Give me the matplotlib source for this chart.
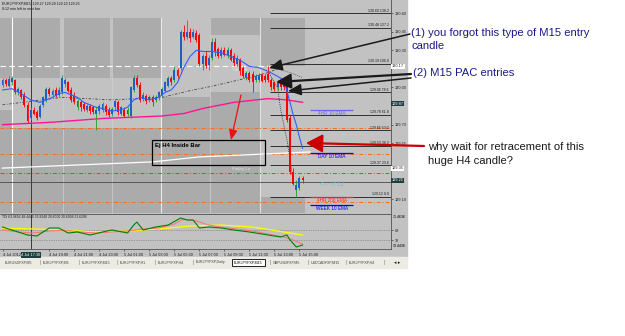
import numpy as np
import matplotlib
matplotlib.use('Agg')
import matplotlib.pyplot as plt
from matplotlib.patches import Rectangle, FancyArrowPatch

plt.rcParams['font.family'] = ['Liberation Sans', 'DejaVu Sans']

# ---- EURJPY M15 candles ----
opens = [130.02, 130.06, 130.01, 130.04, 130.06, 129.96, 129.98, 129.94, 129.86, 129.75,
         129.82, 129.80, 129.76, 129.86, 129.90, 129.99, 129.94, 129.98, 129.94, 129.96,
         130.03, 130.04, 129.98, 129.93, 129.84, 129.88, 129.87, 129.82, 129.85, 129.84,
         129.79, 129.81, 129.82, 129.85, 129.82, 129.79, 129.84, 129.88, 129.79, 129.82,
         129.79, 129.77, 129.98, 130.08, 130.02, 129.91, 129.93, 129.90, 129.92, 129.90,
         129.92, 129.94, 129.97, 130.01, 130.08, 130.06, 130.14, 130.16, 130.45, 130.41,
         130.45, 130.41, 130.44, 130.42, 130.19, 130.25, 130.18, 130.24, 130.37, 130.31,
         130.25, 130.30, 130.26, 130.30, 130.25, 130.19, 130.22, 130.16, 130.08, 130.12,
         130.11, 130.06, 130.06, 130.10, 130.09, 130.11, 130.06, 130.04, 130.00, 130.04,
         130.04, 130.03, 129.75, 129.32, 129.17, 129.19, 129.27]
highs = [130.08, 130.08, 130.09, 130.09, 130.07, 130.00, 129.99, 129.96, 129.88, 129.84,
         129.84, 129.82, 129.87, 129.93, 130.00, 130.00, 129.99, 130.00, 130.00, 130.10,
         130.08, 130.05, 130.00, 129.96, 129.91, 129.90, 129.88, 129.87, 129.87, 129.85,
         129.84, 129.87, 129.88, 129.87, 129.84, 129.84, 129.90, 129.90, 129.85, 129.84,
         129.84, 130.01, 130.10, 130.10, 130.04, 129.96, 129.95, 129.94, 129.94, 129.94,
         129.97, 130.00, 130.05, 130.09, 130.09, 130.17, 130.16, 130.46, 130.50, 130.54,
         130.48, 130.47, 130.46, 130.44, 130.27, 130.29, 130.26, 130.40, 130.40, 130.33,
         130.33, 130.33, 130.33, 130.32, 130.28, 130.26, 130.24, 130.17, 130.13, 130.13,
         130.13, 130.11, 130.12, 130.12, 130.11, 130.17, 130.08, 130.05, 130.05, 130.05,
         130.06, 130.04, 129.78, 129.35, 129.25, 129.29, 129.29]
lows = [130.00, 130.01, 130.00, 130.02, 129.95, 129.94, 129.91, 129.84, 129.71, 129.74,
        129.78, 129.74, 129.75, 129.84, 129.88, 129.93, 129.92, 129.92, 129.92, 129.95,
        130.00, 129.96, 129.88, 129.87, 129.82, 129.81, 129.81, 129.80, 129.79, 129.79,
        129.66, 129.79, 129.80, 129.78, 129.76, 129.77, 129.82, 129.78, 129.78, 129.76,
        129.77, 129.75, 129.96, 130.00, 129.88, 129.89, 129.87, 129.88, 129.85, 129.88,
        129.90, 129.92, 129.96, 130.00, 130.02, 130.04, 130.08, 130.14, 130.38, 130.39,
        130.37, 130.40, 130.37, 130.17, 130.14, 130.16, 130.14, 130.22, 130.25, 130.24,
        130.24, 130.25, 130.24, 130.21, 130.17, 130.17, 130.10, 130.08, 130.06, 130.04,
        129.96, 130.04, 130.04, 130.04, 130.04, 130.04, 129.98, 129.97, 129.98, 129.98,
        129.98, 129.72, 129.30, 129.21, 129.12, 129.17, 129.23]
closes = [130.06, 130.03, 130.07, 130.08, 129.96, 129.99, 129.92, 129.86, 129.73, 129.82,
          129.79, 129.75, 129.85, 129.92, 129.99, 129.95, 129.97, 129.93, 129.98, 130.08,
          130.06, 129.97, 129.90, 129.88, 129.89, 129.84, 129.83, 129.85, 129.81, 129.80,
          129.82, 129.85, 129.87, 129.80, 129.78, 129.83, 129.89, 129.80, 129.84, 129.77,
          129.82, 130.00, 130.08, 130.02, 129.90, 129.94, 129.89, 129.92, 129.88, 129.92,
          129.96, 129.99, 130.04, 130.08, 130.04, 130.14, 130.09, 130.45, 130.41, 130.45,
          130.40, 130.45, 130.38, 130.19, 130.25, 130.17, 130.24, 130.37, 130.29, 130.25,
          130.30, 130.26, 130.30, 130.22, 130.20, 130.24, 130.13, 130.09, 130.12, 130.06,
          130.04, 130.09, 130.10, 130.05, 130.06, 130.06, 130.00, 129.99, 130.04, 130.00,
          130.00, 129.74, 129.32, 129.22, 129.21, 129.27, 129.25]

# moving averages / envelopes (bar index, price)
blue_idx = [0, 3, 6, 9, 12, 14, 16, 18, 20, 22, 24, 26, 28, 30, 32, 35, 38, 40, 42, 44, 47, 50,
            52, 54, 56, 58, 60, 62, 64, 67, 70, 73, 76, 79, 82, 85, 88, 90, 92, 93, 94, 95, 96]
blue_val = [129.98, 129.99, 129.95, 129.90, 129.88, 129.90, 129.92, 129.95, 129.96, 129.94,
            129.92, 129.88, 129.86, 129.84, 129.83, 129.81, 129.82, 129.84, 129.90, 129.92,
            129.90, 129.92, 129.96, 129.98, 130.04, 130.16, 130.25, 130.30, 130.29, 130.29,
            130.28, 130.25, 130.22, 130.17, 130.16, 130.13, 130.09, 130.06, 129.88, 129.78,
            129.70, 129.60, 129.51]
pink_idx = [0, 16, 32, 51, 58, 64, 74, 85, 91, 96]
pink_val = [129.70, 129.72, 129.75, 129.77, 129.79, 129.83, 129.88, 129.91, 129.90, 129.88]
gray_idx = [0, 19, 35, 51, 61, 67, 79, 85, 88]
gray_val = [129.86, 129.92, 129.90, 129.92, 129.98, 130.01, 130.08, 130.12, 130.15]
dotr_idx = [88, 92, 96]
dotr_val = [130.15, 130.12, 130.08]
dotd_idx = [85, 88, 89, 91, 93]
dotd_val = [130.13, 130.00, 129.82, 129.58, 129.25]
white_idx = [0, 48, 63, 98.4]
white_val = [129.35, 129.40, 129.44, 129.48]

# fibonacci levels
fib_low, fib_high = 129.12, 130.19
fib_ratios = [138.2, 127.2, 100.0, 78.6, 61.8, 50.0, 38.2, 23.6, 0.0]

# session boxes: (start idx, end idx, low, high)
boxes = [(-0.8, 18.4, 130.08, 130.56), (19.4, 34.4, 130.08, 130.56), (35.0, 50.7, 130.08, 130.56),
         (66.4, 82.4, 130.42, 130.56), (82.4, 96.8, 130.17, 130.56),
         (-0.8, 50.7, 128.99, 129.67), (-0.8, 3.0, 129.67, 129.82), (50.7, 66.4, 128.99, 129.92),
         (66.4, 82.4, 128.99, 129.96), (82.4, 96.8, 128.99, 129.12)]

# TDI indicator
tdi_g_idx = [0, 3, 8, 11, 15, 18, 21, 24, 28, 32, 35, 40, 42, 43, 45, 49, 53, 57, 59, 61, 63,
             66, 70, 74, 79, 85, 89, 91, 92, 94, 96]
tdi_g_val = [78.8, 68, 50, 46.4, 75.2, 75.2, 57.2, 60.8, 50, 60.8, 68, 57.2, 86, 96.8, 68, 78.8,
             86, 111.2, 104, 104, 75.2, 78.8, 75.2, 68, 60.8, 50, 42.8, 50, 32, 6.8, 14]
tdi_r_idx = [0, 5, 10, 15, 20, 25, 30, 35, 40, 45, 50, 55, 58, 62, 66, 70, 75, 80, 85, 90, 93, 96]
tdi_r_val = [68, 60.8, 57.2, 64.4, 68, 60.8, 57.2, 60.8, 64.4, 71.6, 75.2, 89.6, 107.6, 100.4,
             86, 78.8, 71.6, 64.4, 53.6, 42.8, 32, 17.6]
tdi_y_idx = [0, 10, 20, 30, 40, 50, 60, 70, 80, 90, 96]
tdi_y_val = [75.2, 71.6, 68, 60.8, 64.4, 71.6, 82.4, 86, 78.8, 60.8, 50]

price_ticks = [130.60, 130.45, 130.30, 130.00, 129.70, 129.55, 129.10]
marked_prices = [130.17, 129.87, 129.35, 129.25]
time_idx = [0, 15, 23, 31, 39, 47, 55, 63, 71, 79, 87, 95]
time_lbl = ['4 Jul 2012', '4 Jul 19:00', '4 Jul 21:00', '4 Jul 23:00', '5 Jul 01:00', '5 Jul 03:00',
            '5 Jul 05:00', '5 Jul 07:00', '5 Jul 09:00', '5 Jul 11:00', '5 Jul 13:00', '5 Jul 15:00']
tabs = ['EURUSDFXP,M5', 'EURJPYFXP,M5', 'EURJPYFXP,M15', 'EURJPYFXP,H1', 'EURJPYFXP,H4',
        'EURJPYFXP,Daily', 'EURJPYFXP,M15', 'GBPUSDFXP,M5', 'USDCADFXP,M15', 'EURJPYFXP,H4']

BG = '#c2c2c2'
BOX = '#ababab'
W, H = 625, 336


def fx(x):
    return x / W


def fy(y):
    return 1 - y / H


fig = plt.figure(figsize=(6.25, 3.36), dpi=100, facecolor='white')
fig.patches.append(Rectangle((0, fy(257)), fx(407), 257 / H, transform=fig.transFigure,
                             color=BG, zorder=-10))
fig.patches.append(Rectangle((0, fy(268)), fx(407), 11 / H, transform=fig.transFigure,
                             color='#ecebe4', zorder=-10))

# ---- main price panel ----
ax = fig.add_axes([0, fy(213), fx(391), 213 / H])
ax.set_facecolor(BG)
ax.set_xlim(-0.8, 124.3)
ax.set_ylim(128.988, 130.705)

for x0, x1, lo, hi in boxes:
    ax.add_patch(Rectangle((x0, lo), x1 - x0, hi - lo, color=BOX, lw=0, zorder=0.5))

for xi, c in [(3.0, 'white'), (50.7, '#e8e8e8'), (82.4, '#e0e0e0')]:
    ax.plot([xi, xi], [128.99, 130.56], color=c, lw=0.8, zorder=1)
for xi in [19.2, 35.0, 66.4]:
    ax.plot([xi, xi], [128.99, 130.56], color='#cfcfcf', lw=0.5, zorder=1)
ax.axvline(9.1, color='#3a3a3a', lw=0.7, zorder=1)

ax.axhline(129.67, color='#ff6a1a', lw=0.7, ls=(0, (4, 2, 1, 2)), zorder=1)
ax.axhline(129.46, color='#ff6a1a', lw=0.7, ls=(0, (4, 2, 1, 2)), zorder=1)
ax.axhline(129.08, color='#ff6a1a', lw=0.7, ls=(0, (4, 2, 1, 2)), zorder=1)
ax.axhline(129.31, color='#3c8c3c', lw=0.7, ls=(0, (4, 2, 1, 2)), zorder=1)
ax.axhline(129.24, color='#4a4a4a', lw=0.6, zorder=1)
ax.hlines(130.17, -0.8, 85.6, color='white', lw=0.8, ls=(0, (5, 3)), zorder=1)
ax.text(73.5, 130.16, 'Yday Hi', color='#eeeeee', fontsize=3.2, va='top', zorder=2)
ax.text(73.5, 129.36, 'Friday Lo', color='#e4e4e4', fontsize=3.2, va='top', zorder=2)
ax.plot(white_idx, white_val, color='white', lw=0.9, zorder=2)

for r in fib_ratios:
    p = fib_low + r / 100 * (fib_high - fib_low)
    ax.hlines(p, 85.6, 124.3, color='#1a1a1a', lw=0.6, zorder=2)
    ax.text(123.6, p + 0.004, f'{p:.2f} {r:.1f}', ha='right', va='bottom', fontsize=2.5,
            color='#1a1a1a', zorder=3)

ax.plot(pink_idx, pink_val, color='#ff1493', lw=1.0, zorder=3)
ax.plot(gray_idx, gray_val, color='#404040', lw=0.6, ls=(0, (3, 2, 1, 2)), zorder=3)
ax.plot(dotr_idx, dotr_val, color='#404040', lw=0.6, ls=(0, (1, 1.5)), zorder=3)
ax.plot(dotd_idx, dotd_val, color='#202020', lw=0.6, ls=(0, (1, 1.5)), zorder=3)

idx = np.arange(len(opens))
o = np.array(opens)
c = np.array(closes)
up = c >= o
ax.vlines(idx, lows, highs, colors=np.where(up, '#1fa01f', '#ff0000'), lw=0.6, zorder=4)
ax.bar(idx, np.maximum(np.abs(c - o), 0.006), bottom=np.minimum(o, c), width=0.62,
       color=np.where(up, '#1e5fc8', '#ff0000'), lw=0, zorder=5)
ax.plot(blue_idx, blue_val, color='#2f5fff', lw=0.8, zorder=6)

# labels of the higher timeframe EMAs
ema_labels = ['4HR 10 EMA', 'DAY 10 EMA', '4HR 200 EMA', 'WEEK 10 EMA']
ema_levels = [129.82, 129.47, 129.12, 129.05]
ema_colors = ['#6a6af0', '#0000ff', '#ff2020', '#0000ff']
for lbl, lev, col in zip(ema_labels, ema_levels, ema_colors):
    ax.hlines(lev, 98.4, 112.2, color=col, lw=0.9, zorder=3)
    ax.text(105.3, lev - 0.008, lbl, color=col, fontsize=3.4, ha='center', va='top', zorder=3)
ax.text(101.5, 129.22, '<-- 0:12', color='#6ccaca', fontsize=5, va='center', zorder=3)

ax.yaxis.tick_right()
ax.set_yticks(price_ticks)
ax.set_yticklabels([f'{t:.2f}' for t in price_ticks])
ax.tick_params(axis='y', labelsize=2.8, pad=1, length=1.5, width=0.4, colors='#202020')
ax.set_xticks([])
for s in ['left', 'top', 'bottom']:
    ax.spines[s].set_visible(False)
ax.spines['right'].set_color('#505050')
ax.spines['right'].set_linewidth(0.6)

for lev, fc, tc in zip(marked_prices, ['white', '#1f3f3f', 'white', '#1f3f3f'],
                       ['#202020', 'white', '#202020', 'white']):
    ax.text(124.6, lev, f'{lev:.2f}', fontsize=2.8, color=tc, va='center', ha='left', clip_on=False,
            bbox=dict(boxstyle='square,pad=0.15', fc=fc, ec='none'), zorder=7)

ax.text(0.004, 0.995, 'EURJPYFXP,M15  129.27 129.29 129.23 129.25', transform=ax.transAxes,
        fontsize=2.6, va='top', color='#101010')
ax.text(0.004, 0.965, '0:12 min left to next bar', transform=ax.transAxes,
        fontsize=2.6, va='top', color='#101010')

# ---- TDI panel ----
ax2 = fig.add_axes([0, fy(249), fx(391), 35 / H])
ax2.set_facecolor(BG)
ax2.set_xlim(-0.8, 124.3)
ax2.set_ylim(-0.4, 125.6)
ax2.axhline(68, color='#6a6a6a', lw=0.5, ls=(0, (1, 1.5)))
ax2.axhline(32, color='#6a6a6a', lw=0.5, ls=(0, (1, 1.5)))
ax2.axvline(9.1, color='#3a3a3a', lw=0.7)
ax2.plot(tdi_y_idx, tdi_y_val, color='#ffff00', lw=0.9)
ax2.plot(tdi_r_idx, tdi_r_val, color='#ff7070', lw=0.7)
ax2.plot(tdi_g_idx, tdi_g_val, color='#008000', lw=0.8)
ax2.text(0.005, 0.96, 'TDI 63.9656 48.4440 35.8248 28.6000 20.6008 21.6206', transform=ax2.transAxes,
         fontsize=2.4, va='top', color='#202020')
ax2.yaxis.tick_right()
ax2.set_yticks([68, 32])
ax2.set_yticklabels(['68', '32'])
ax2.tick_params(axis='y', labelsize=2.8, pad=1, length=1.5, width=0.4, colors='#202020')
ax2.text(1.004, 0.97, '71.4636', transform=ax2.transAxes, fontsize=2.6, va='top')
ax2.text(1.004, 0.02, '13.4436', transform=ax2.transAxes, fontsize=2.6, va='bottom')
ax2.set_xticks(time_idx)
ax2.set_xticklabels(time_lbl, ha='left')
ax2.tick_params(axis='x', labelsize=2.8, pad=1.2, length=1.5, width=0.4, colors='#202020')
for s in ['left', 'bottom', 'top', 'right']:
    ax2.spines[s].set_color('#505050')
    ax2.spines[s].set_linewidth(0.6)
ax2.spines['left'].set_visible(False)
ax2.text(9.1, -0.17, '4 Jul 17:30', transform=ax2.get_xaxis_transform(), fontsize=2.8,
         ha='center', va='center', color='white', clip_on=False,
         bbox=dict(boxstyle='square,pad=0.2', fc='#1f3f3f', ec='none'))

# ---- tab bar ----
for k, name in enumerate(tabs):
    x = 5 + 38.2 * k
    if k == 6:
        fig.text(fx(x), fy(262.5), name, fontsize=2.6, va='center', color='#000000',
                 bbox=dict(boxstyle='square,pad=0.5', fc='white', ec='#000000', lw=0.6))
    else:
        fig.text(fx(x), fy(262.5), name, fontsize=2.6, va='center', color='#404040')
    fig.text(fx(x + 35), fy(262.5), '|', fontsize=4, va='center', color='#808080')
fig.text(fx(394), fy(262.5), '\u25c2 \u25b8', fontsize=3.5, va='center', color='#202020')

# ---- annotations ----
navy = '#1a1a8a'
fs = 8.1
fig.text(fx(411), fy(33), '(1) you forgot this type of M15 entry', color=navy, fontsize=fs, va='center')
fig.text(fx(411), fy(46), 'candle', color=navy, fontsize=fs, va='center')
fig.text(fx(413), fy(73), '(2) M15 PAC entries', color=navy, fontsize=fs, va='center')
fig.text(fx(428), fy(147), 'why wait for retracement of this', color='#1a1a1a', fontsize=fs, va='center')
fig.text(fx(428), fy(161), 'huge H4 candle?', color='#1a1a1a', fontsize=fs, va='center')


def arrow(p0, p1, color, lw, hl, hw):
    fig.add_artist(FancyArrowPatch((fx(p0[0]), fy(p0[1])), (fx(p1[0]), fy(p1[1])),
                                   transform=fig.transFigure, color=color, lw=lw,
                                   arrowstyle=f'-|>,head_length={hl},head_width={hw}',
                                   mutation_scale=10, shrinkA=0, shrinkB=0, zorder=10))


arrow((410, 34), (269, 68), '#1a1a1a', 1.1, 0.8, 0.35)
arrow((411, 74), (276, 82), '#1a1a1a', 1.6, 0.9, 0.45)
arrow((411, 78), (288, 91), '#1a1a1a', 1.1, 0.8, 0.35)
arrow((424, 146), (306, 143), '#cc0000', 1.6, 1.0, 0.55)
arrow((241, 95), (231, 140), '#ee1010', 0.9, 0.6, 0.25)

fig.patches.append(Rectangle((fx(152), fy(165)), fx(265) - fx(152), 25 / H, transform=fig.transFigure,
                             fill=False, ec='#000000', lw=0.9, zorder=8))
fig.text(fx(155), fy(146), 'Ej H4 Inside Bar', fontsize=4.3, fontweight='bold', va='center',
         color='#000000', zorder=9)

fig.savefig('out.png', dpi=100, facecolor='white')
